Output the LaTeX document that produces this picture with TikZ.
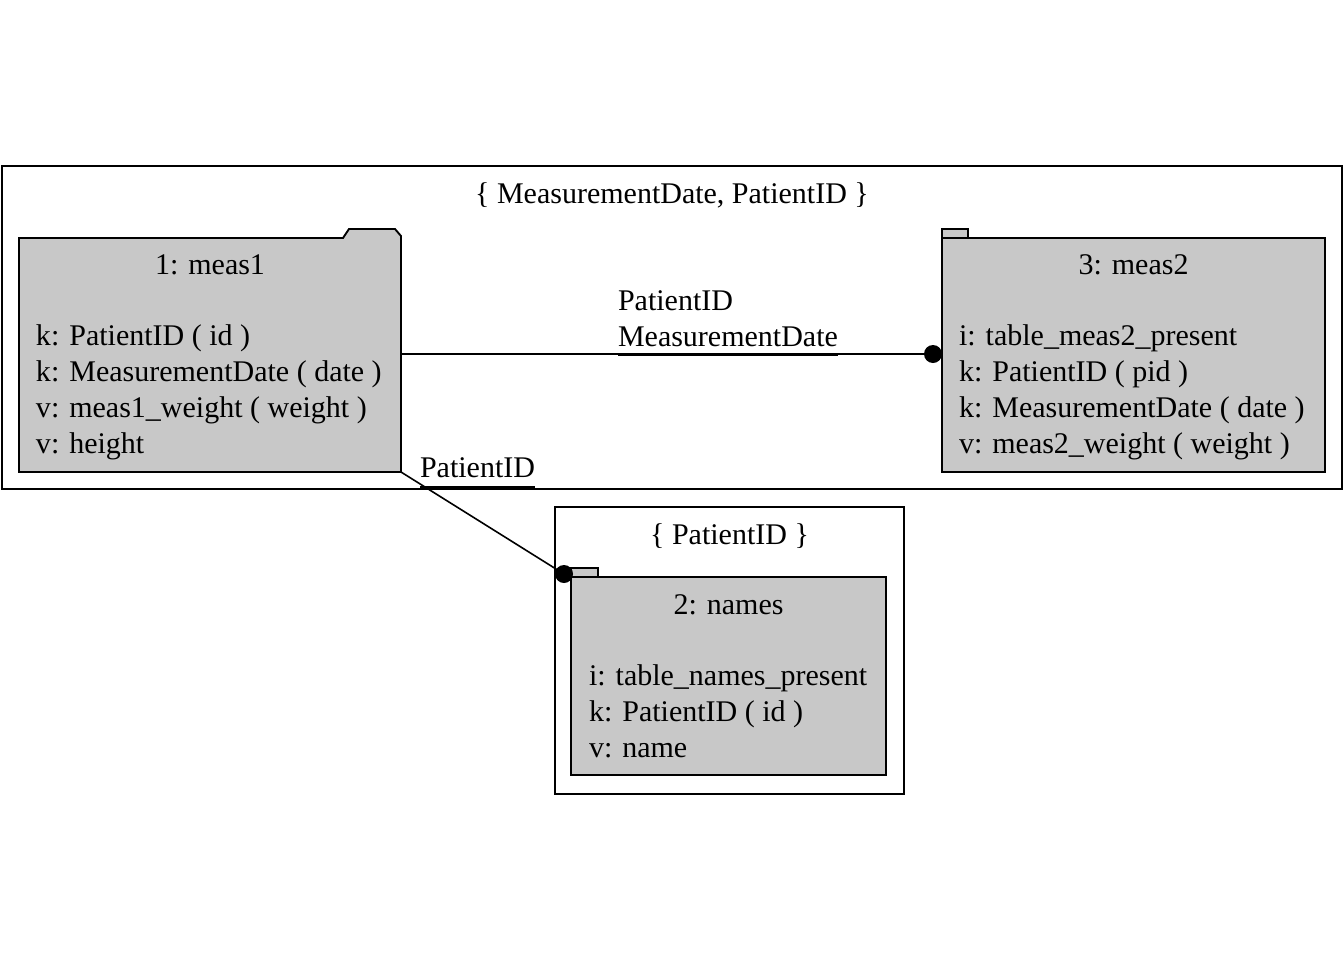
\documentclass[tikz,border=0pt]{standalone}
\usepackage{fontspec}
\setmainfont{Liberation Serif}
\usetikzlibrary{calc}
\definecolor{boxgray}{RGB}{200,200,200}
\tikzset{
  txt/.style={font=\fontsize{22.5}{27}\selectfont, inner sep=0pt, outer sep=0pt},
  frame/.style={draw, line width=1.4pt, inner sep=0pt, outer sep=0pt, rectangle},
  body/.style={inner sep=0pt, outer sep=0pt, rectangle},
  outline/.style={draw, line width=1.4pt, fill=boxgray, line join=miter},
  link/.style={line width=1.2pt},
  dot/.style={circle, fill=black, inner sep=0pt, minimum size=13.5pt},
  uline/.style={line width=1.8pt}
}
\begin{document}
\begin{tikzpicture}[x=0.75pt, y=-0.75pt]
\useasboundingbox (0,0) rectangle (1344,960);

% clusters
\node[frame, minimum width=1005pt, minimum height=242.25pt] (grpA) at (672,327.5) {};
\node[txt, anchor=base] (grpAt) at (672,203) {\{ MeasurementDate, PatientID \}};
\node[frame, minimum width=261.75pt, minimum height=215.25pt] (grpB) at (729.5,650.5) {};
\node[txt, anchor=base] (grpBt) at (729.5,544) {\{ PatientID \}};

% table 1: meas1 (folder with tab on the right)
\node[body, minimum width=286.5pt, minimum height=175.5pt] (meas1) at (210,355) {};
\draw[outline] (meas1.north west) -- ($(meas1.north east)+(-58,0)$)
  -- ($(meas1.north east)+(-52,-9)$) -- ($(meas1.north east)+(-6,-9)$)
  -- ($(meas1.north east)+(0,-2)$) -- (meas1.south east) -- (meas1.south west) -- cycle;
\node[txt, anchor=base] (m1t) at (210,274) {1: meas1};
\node[txt, anchor=base west] (m1a) at (36,345) {k: PatientID ( id )};
\node[txt, anchor=base west] (m1b) at (36,381) {k: MeasurementDate ( date )};
\node[txt, anchor=base west] (m1c) at (36,417) {v: meas1\_weight ( weight )};
\node[txt, anchor=base west] (m1d) at (36,453) {v: height};

% table 3: meas2 (small tab on the left)
\node[body, minimum width=287.25pt, minimum height=175.5pt] (meas2) at (1133.5,355) {};
\draw[outline] (meas2.north west) rectangle ($(meas2.north west)+(26,-9)$);
\draw[outline] (meas2.north west) rectangle (meas2.south east);
\node[txt, anchor=base] (m2t) at (1133.5,274) {3: meas2};
\node[txt, anchor=base west] (m2a) at (959,345) {i: table\_meas2\_present};
\node[txt, anchor=base west] (m2b) at (959,381) {k: PatientID ( pid )};
\node[txt, anchor=base west] (m2c) at (959,417) {k: MeasurementDate ( date )};
\node[txt, anchor=base west] (m2d) at (959,453) {v: meas2\_weight ( weight )};

% table 2: names
\node[body, minimum width=236.25pt, minimum height=148.5pt] (names) at (728.5,676) {};
\draw[outline] (names.north west) rectangle ($(names.north west)+(27,-9)$);
\draw[outline] (names.north west) rectangle (names.south east);
\node[txt, anchor=base] (nt) at (728.5,614) {2: names};
\node[txt, anchor=base west] (na) at (589,685) {i: table\_names\_present};
\node[txt, anchor=base west] (nb) at (589,721) {k: PatientID ( id )};
\node[txt, anchor=base west] (nc) at (589,757) {v: name};

% link meas1 -> meas2
\node[dot] (d1) at ($(meas2.west)+(-9,-1)$) {};
\draw[link] ($(meas1.east)+(0,-1)$) -- (d1.center);
\node[txt, anchor=base west] (l1a) at (618,310) {PatientID};
\node[txt, anchor=base west] (l1b) at (618,346) {MeasurementDate};
\draw[uline] ($(l1b.base west)+(0,9)$) -- ($(l1b.base east)+(0,9)$);

% link meas1 -> names
\node[dot] (d2) at ($(names.north west)+(-7,-3)$) {};
\draw[link] (meas1.south east) -- (d2.center);
\node[txt, anchor=base west] (l2) at (420,477) {PatientID};
\draw[uline] ($(l2.base west)+(0,10)$) -- ($(l2.base east)+(0,10)$);
\end{tikzpicture}
\end{document}
